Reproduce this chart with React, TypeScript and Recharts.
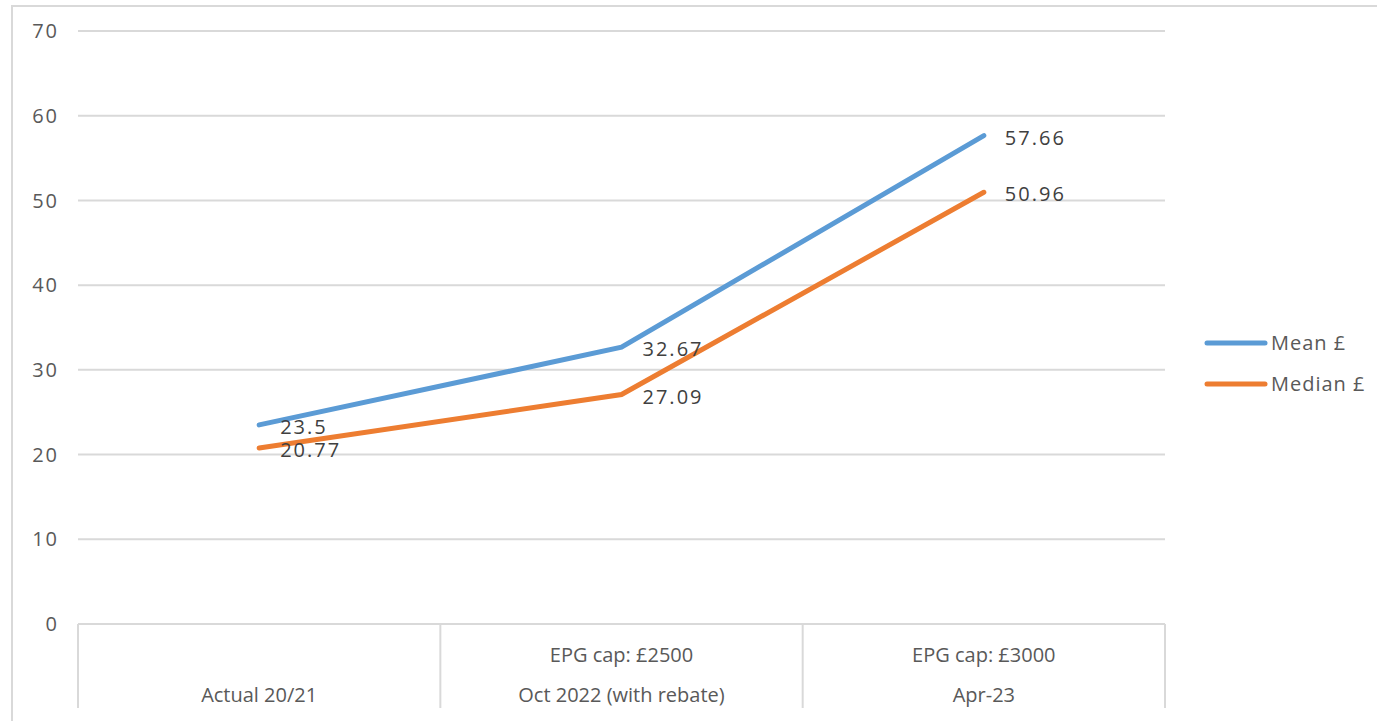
import { CartesianGrid, Legend, LabelList, Line, LineChart, XAxis, YAxis } from "recharts";

// Mean / median per-period figures (£), three periods, two-row category axis
const periods = ["Actual 20/21", "Oct 2022 (with rebate)", "Apr-23"];
const capLabels = ["", "EPG cap: £2500", "EPG cap: £3000"];
const meanValues = [23.5, 32.67, 57.66];
const medianValues = [20.77, 27.09, 50.96];
const yTicks = [0, 10, 20, 30, 40, 50, 60, 70];

const W = 1377;
const H = 721;
const M = { top: 31, right: 12, left: 0, bottom: 0 };
const Y_W = 78;
const X_H = 97;
const LEGEND_W = 200;
const PLOT_W = W - M.left - M.right - Y_W - LEGEND_W;
const BAND = PLOT_W / periods.length;

const FONT = "'Open Sans', sans-serif";
const TXT = "#595959";
const GRID = "#d9d9d9";
const BLUE = "#5b9bd5";
const ORANGE = "#ed7d31";

const data = periods.map((p, i) => ({
  i,
  period: p,
  cap: capLabels[i],
  mean: meanValues[i],
  median: medianValues[i],
}));

// two-row label + separators between categories (extend below the axis)
function PeriodTick(props: any) {
  const { x, y, payload } = props;
  const i = payload.value as number;
  const lineH = X_H - 13;
  return (
    <g>
      <line x1={x - BAND / 2} x2={x - BAND / 2} y1={y} y2={y + lineH} stroke={GRID} strokeWidth={2} />
      {i === periods.length - 1 && (
        <line x1={x + BAND / 2} x2={x + BAND / 2} y1={y} y2={y + lineH} stroke={GRID} strokeWidth={2} />
      )}
      <text x={x} y={y + 30} textAnchor="middle" dominantBaseline="central" fill={TXT} fontSize={20} fontFamily={FONT}>
        {capLabels[i]}
      </text>
      <text x={x} y={y + 70} textAnchor="middle" dominantBaseline="central" fill={TXT} fontSize={20} fontFamily={FONT}>
        {periods[i]}
      </text>
    </g>
  );
}

function LegendBox() {
  const items = [
    { name: "Mean £", color: BLUE },
    { name: "Median £", color: ORANGE },
  ];
  return (
    <div style={{ paddingLeft: 39, fontFamily: FONT, fontSize: 20, letterSpacing: 1, color: TXT, whiteSpace: "nowrap" }}>
      {items.map((it) => (
        <div key={it.name} style={{ display: "flex", alignItems: "center", height: 41 }}>
          <svg width={64} height={10} style={{ flexShrink: 0 }}>
            <line x1={3} x2={61} y1={5} y2={5} stroke={it.color} strokeWidth={5} strokeLinecap="round" />
          </svg>
          <span style={{ marginLeft: 3 }}>{it.name}</span>
        </div>
      ))}
    </div>
  );
}

const numLabel = { fill: "#404040", fontSize: 20, fontFamily: FONT, letterSpacing: 2, dy: 2 };

export default function App() {
  return (
    <div style={{ position: "absolute", left: 0, top: 0, width: W, height: H, background: "#fff", overflow: "hidden" }}>
      <div
        style={{
          position: "absolute",
          left: 11,
          top: 5,
          width: W,
          height: H,
          border: `2px solid ${GRID}`,
          boxSizing: "border-box",
        }}
      />
      <LineChart width={W} height={H} data={data} margin={M}>
        <CartesianGrid horizontal vertical={false} stroke={GRID} strokeWidth={2} />
        <XAxis
          dataKey="i"
          type="number"
          domain={[-0.5, periods.length - 0.5]}
          ticks={data.map((d) => d.i)}
          interval={0}
          height={X_H}
          tickLine={false}
          tickSize={0}
          tickMargin={0}
          axisLine={{ stroke: GRID, strokeWidth: 2 }}
          tick={<PeriodTick />}
        />
        <YAxis
          type="number"
          domain={[0, 70]}
          ticks={yTicks}
          width={Y_W}
          axisLine={false}
          tickLine={false}
          tickSize={0}
          tickMargin={19}
          tick={{ fill: TXT, fontSize: 20, fontFamily: FONT, letterSpacing: 2 }}
        />
        <Legend layout="vertical" align="right" verticalAlign="middle" width={LEGEND_W} wrapperStyle={{ top: 322 }} content={<LegendBox />} />
        <Line
          dataKey="mean"
          name="Mean £"
          stroke={BLUE}
          strokeWidth={5}
          strokeLinecap="round"
          dot={false}
          isAnimationActive={false}
        >
          <LabelList dataKey="mean" position="right" offset={21} {...numLabel} />
        </Line>
        <Line
          dataKey="median"
          name="Median £"
          stroke={ORANGE}
          strokeWidth={5}
          strokeLinecap="round"
          dot={false}
          isAnimationActive={false}
        >
          <LabelList dataKey="median" position="right" offset={21} {...numLabel} />
        </Line>
      </LineChart>
    </div>
  );
}
